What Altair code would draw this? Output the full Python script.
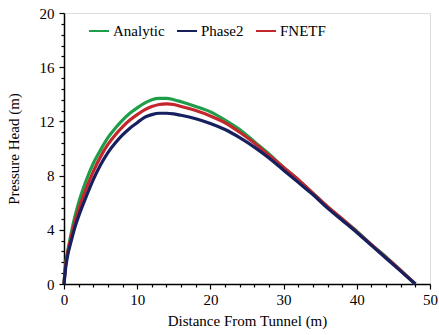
import altair as alt
import pandas as pd

distance = [0, 0.25, 0.5, 1, 1.5, 2, 3, 4, 5, 6, 7, 8, 9, 10, 11, 12, 13, 14, 15, 16,
            18, 20, 22, 24, 26, 28, 30, 32, 34, 36, 38, 40, 42, 44, 46, 48]
analytic = [0, 1.6, 2.4, 3.8, 5.0, 6.0, 7.6, 8.9, 9.9, 10.8, 11.5, 12.1, 12.6, 13.0, 13.35, 13.6,
            13.7, 13.7, 13.6, 13.45, 13.1, 12.7, 12.1, 11.4, 10.5, 9.6, 8.6, 7.7, 6.7, 5.7,
            4.8, 3.9, 2.9, 2.0, 1.0, 0]
fnetf = [0, 1.5, 2.3, 3.5, 4.6, 5.5, 7.0, 8.3, 9.4, 10.3, 11.0, 11.6, 12.1, 12.5, 12.85, 13.1,
         13.25, 13.3, 13.25, 13.1, 12.8, 12.4, 11.9, 11.2, 10.4, 9.5, 8.6, 7.7, 6.7, 5.7,
         4.8, 3.85, 2.9, 1.95, 1.0, 0]
phase2 = [0, 1.3, 2.1, 3.2, 4.2, 5.0, 6.4, 7.7, 8.8, 9.7, 10.4, 11.0, 11.5, 11.9, 12.3, 12.5,
          12.6, 12.6, 12.55, 12.45, 12.2, 11.85, 11.4, 10.8, 10.1, 9.3, 8.4, 7.5, 6.6, 5.6,
          4.7, 3.8, 2.85, 1.9, 0.95, 0]

series_names = ["Analytic", "Phase2", "FNETF"]
series_colors = ["#1f9e4a", "#17205e", "#c4262e"]
draw_order = {"Analytic": 0, "FNETF": 1, "Phase2": 2}

x_minor = [i * 2 for i in range(26)]
y_minor = [round(i * 0.8, 2) for i in range(26)]

rows = []
for name, vals in [("Analytic", analytic), ("FNETF", fnetf), ("Phase2", phase2)]:
    for d, v in zip(distance, vals):
        rows.append({"Distance": d, "Head": v, "Series": name, "order": draw_order[name]})
df = pd.DataFrame(rows)

FONT = "Liberation Serif"
Y_MAJOR = "abs(datum.value/4 - round(datum.value/4)) < 0.001"

x_axis = alt.Axis(
    values=x_minor,
    labelExpr="datum.value % 10 === 0 ? datum.label : ''",
    tickSize={"condition": {"test": "datum.value % 10 === 0", "value": 5}, "value": 3},
    tickWidth=1.2,
    grid=False, labelOverlap=False, labelFlush=False,
    title="Distance From Tunnel (m)", titlePadding=6,
    domainColor="black", tickColor="black", domainWidth=1.5,
    labelFont=FONT, labelFontSize=15, labelColor="black", labelPadding=3,
    titleFont=FONT, titleFontSize=15, titleFontWeight="normal", titleColor="black",
)
y_axis = alt.Axis(
    values=y_minor,
    labelExpr=Y_MAJOR + " ? datum.label : ''",
    tickSize={"condition": {"test": Y_MAJOR, "value": 5}, "value": 3},
    tickWidth=1.2,
    grid=False, labelOverlap=False, labelFlush=False,
    title="Pressure Head (m)", titlePadding=18,
    domainColor="black", tickColor="black", domainWidth=1.5,
    labelFont=FONT, labelFontSize=15, labelColor="black", labelPadding=5,
    titleFont=FONT, titleFontSize=15, titleFontWeight="normal", titleColor="black",
)

chart = alt.Chart(df).mark_line(strokeWidth=3.2, interpolate="monotone").encode(
    x=alt.X("Distance:Q", scale=alt.Scale(domain=[0, 50], nice=False), axis=x_axis),
    y=alt.Y("Head:Q", scale=alt.Scale(domain=[0, 20], nice=False), axis=y_axis),
    color=alt.Color(
        "Series:N",
        scale=alt.Scale(domain=series_names, range=series_colors),
        legend=alt.Legend(
            title=None, orient="none", direction="horizontal",
            legendX=24, legendY=7, symbolType="stroke", symbolSize=400,
            symbolStrokeWidth=2, labelFont=FONT, labelFontSize=15, labelColor="black",
            labelOffset=3, columnPadding=8, padding=0,
        ),
    ),
    order=alt.Order("order:Q"),
    detail="Series:N",
).properties(
    width=366, height=271,
    autosize=alt.AutoSizeParams(type="none"),
    padding={"left": 64, "top": 13, "right": 9, "bottom": 51},
).configure_view(stroke="black", strokeWidth=1.5).configure(background="white")

chart.save("out.html", embed_options={"renderer": "svg", "actions": False})
